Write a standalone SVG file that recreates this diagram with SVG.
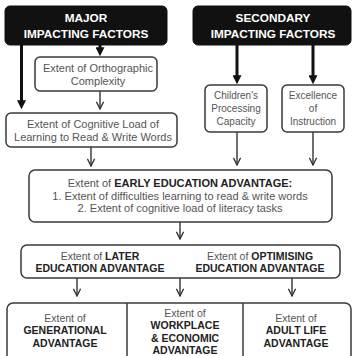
<svg xmlns="http://www.w3.org/2000/svg" width="353" height="356" viewBox="0 0 353 356">
<defs>
<style>
.hdr{fill:#111;stroke:#111;stroke-width:1}
.box{fill:#fff;stroke:#3a3a3a;stroke-width:1.5}
.ht{font-family:"Liberation Sans",Arial,sans-serif;font-weight:bold;font-size:11.8px;fill:#fff;text-anchor:middle}
.t{font-family:"Liberation Sans",Arial,sans-serif;font-size:10px;fill:#555;text-anchor:middle}
.m{font-size:11px}
.s{font-size:10.5px}
.b{font-weight:bold;fill:#222}
.tb{font-family:"Liberation Sans",Arial,sans-serif;font-size:10.5px;font-weight:bold;fill:#222;text-anchor:middle}
.thick{stroke:#111;stroke-width:3;fill:none}
.thin{stroke:#333;stroke-width:1.4;fill:none}
</style>
<marker id="tri" viewBox="0 0 10 10" refX="3" refY="5" markerWidth="9" markerHeight="9" markerUnits="userSpaceOnUse" orient="auto">
<path d="M0,0 L10,5 L0,10 z" fill="#111"/>
</marker>
<marker id="chev" viewBox="0 0 10 10" refX="9" refY="5" markerWidth="9" markerHeight="9" markerUnits="userSpaceOnUse" orient="auto">
<path d="M1,1 L9,5 L1,9" fill="none" stroke="#333" stroke-width="1.5"/>
</marker>
</defs>

<g id="connectors">
<line class="thick" x1="21.5" y1="45" x2="21.5" y2="103" marker-end="url(#tri)"/>
<line class="thick" x1="100" y1="45" x2="100" y2="50" marker-end="url(#tri)"/>
<line class="thick" x1="237" y1="45" x2="237" y2="78" marker-end="url(#tri)"/>
<line class="thick" x1="313" y1="45" x2="313" y2="78" marker-end="url(#tri)"/>
<line class="thin" x1="100" y1="91" x2="100" y2="109" marker-end="url(#chev)"/>
<line class="thin" x1="91" y1="147" x2="91" y2="166" marker-end="url(#chev)"/>
<line class="thin" x1="237" y1="132" x2="237" y2="165" marker-end="url(#chev)"/>
<line class="thin" x1="313" y1="132" x2="313" y2="165" marker-end="url(#chev)"/>
<line class="thin" x1="180" y1="222" x2="180" y2="239" marker-end="url(#chev)"/>
<line class="thin" x1="77" y1="278" x2="77" y2="296" marker-end="url(#chev)"/>
<line class="thin" x1="180" y1="278" x2="180" y2="296" marker-end="url(#chev)"/>
<line class="thin" x1="292" y1="278" x2="292" y2="296" marker-end="url(#chev)"/>
</g>

<g id="major">
<rect class="hdr" x="5" y="6" width="162" height="39" rx="5"/>
<text class="ht" x="86" y="22">MAJOR</text>
<text class="ht" x="86" y="38">IMPACTING FACTORS</text>
</g>

<g id="secondary">
<rect class="hdr" x="193" y="6" width="158" height="39" rx="5"/>
<text class="ht" x="273" y="22">SECONDARY</text>
<text class="ht" x="273" y="38">IMPACTING FACTORS</text>
</g>

<g id="orthographic">
<rect class="box" x="35" y="57" width="122" height="34" rx="5"/>
<text class="t m" x="98" y="72">Extent of Orthographic</text>
<text class="t m" x="98" y="85">Complexity</text>
</g>

<g id="cognitive">
<rect class="box" x="6" y="113" width="171" height="34" rx="5"/>
<text class="t m" x="93" y="128">Extent of Cognitive Load of</text>
<text class="t m" x="93" y="141">Learning to Read &amp; Write Words</text>
</g>

<g id="processing">
<rect class="box" x="205" y="85" width="62" height="47" rx="5"/>
<text class="t" x="236" y="99">Children's</text>
<text class="t" x="236" y="112">Processing</text>
<text class="t" x="236" y="125">Capacity</text>
</g>

<g id="instruction">
<rect class="box" x="282" y="85" width="62" height="47" rx="5"/>
<text class="t" x="313" y="99">Excellence</text>
<text class="t" x="313" y="112">of</text>
<text class="t" x="313" y="125">Instruction</text>
</g>

<g id="early">
<rect class="box" x="29" y="170" width="303" height="52" rx="6"/>
<text class="t m" x="180" y="187">Extent of <tspan class="b">EARLY EDUCATION ADVANTAGE:</tspan></text>
<text class="t m" x="180" y="200">1. Extent of difficulties learning to read &amp; write words</text>
<text class="t m" x="180" y="212">2. Extent of cognitive load of literacy tasks</text>
</g>

<g id="later-optimising">
<rect class="box" x="21" y="245" width="319" height="33" rx="6"/>
<text class="t s" x="100" y="260">Extent of <tspan class="b">LATER</tspan></text>
<text class="tb" x="100" y="272">EDUCATION ADVANTAGE</text>
<text class="t s" x="260" y="260">Extent of <tspan class="b">OPTIMISING</tspan></text>
<text class="tb" x="260" y="272">EDUCATION ADVANTAGE</text>
</g>

<g id="outcomes">
<rect class="box" x="7" y="303" width="344" height="70" rx="6"/>
<line class="box" x1="127" y1="303" x2="127" y2="356"/>
<line class="box" x1="243" y1="303" x2="243" y2="356"/>
</g>

<g id="generational">
<text class="t s" x="65" y="322">Extent of</text>
<text class="tb" x="65" y="334">GENERATIONAL</text>
<text class="tb" x="65" y="347">ADVANTAGE</text>
</g>

<g id="workplace">
<text class="t s" x="185" y="317">Extent of</text>
<text class="tb" x="185" y="329">WORKPLACE</text>
<text class="tb" x="185" y="342">&amp; ECONOMIC</text>
<text class="tb" x="185" y="354">ADVANTAGE</text>
</g>

<g id="adult">
<text class="t s" x="296" y="322">Extent of</text>
<text class="tb" x="296" y="334">ADULT LIFE</text>
<text class="tb" x="296" y="347">ADVANTAGE</text>
</g>
</svg>
